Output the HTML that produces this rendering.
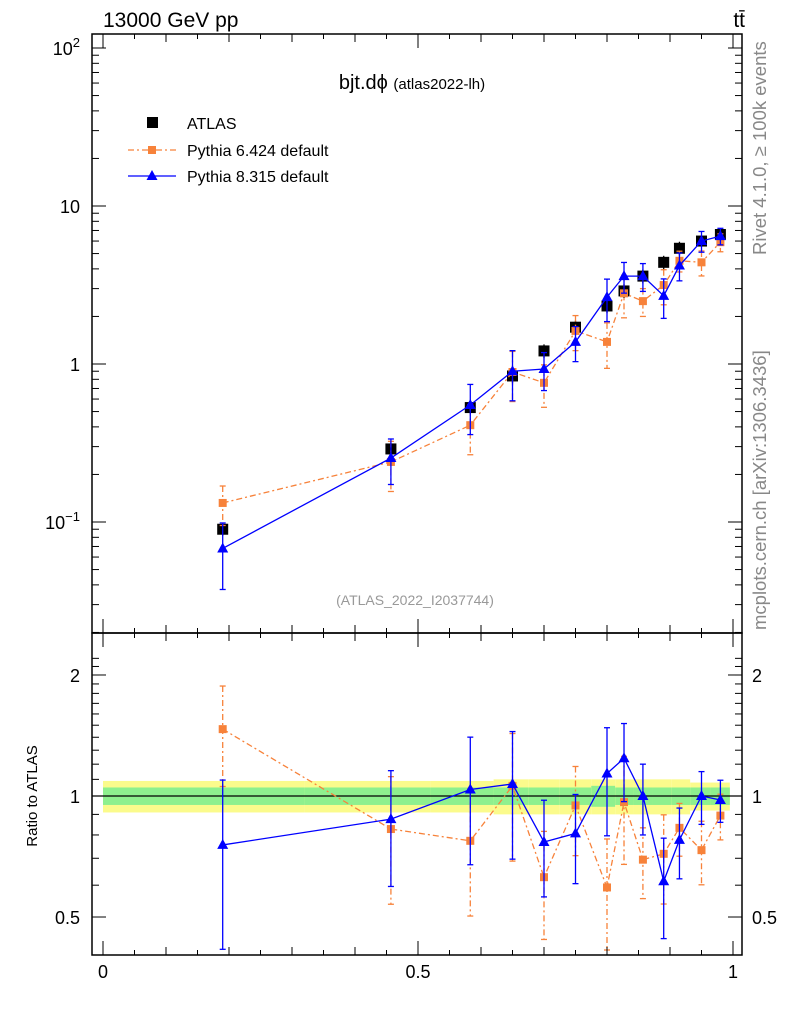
<!DOCTYPE html>
<html><head><meta charset="utf-8"><style>
body{margin:0;background:#fff;}
svg text{font-family:"Liberation Sans",sans-serif;}
</style></head><body>
<svg id="c" width="786" height="1024" xmlns="http://www.w3.org/2000/svg">
<rect width="786" height="1024" fill="#fff"/>
<g id="bands"></g>
<g id="marks"></g>
<g id="axes"></g>
<text x="103" y="27" font-size="21">13000 GeV pp</text>
<text x="745" y="27" font-size="21" text-anchor="end">tt̄</text>
<text x="412" y="89" font-size="20" text-anchor="middle">bjt.dϕ <tspan font-size="15">(atlas2022-lh)</tspan></text>
<text x="415" y="605" font-size="14" fill="#999" text-anchor="middle">(ATLAS_2022_I2037744)</text>
<text transform="translate(766,255) rotate(-90)" font-size="18.5" fill="#888">Rivet 4.1.0, ≥ 100k events</text>
<text transform="translate(766,630) rotate(-90)" font-size="18.5" fill="#888">mcplots.cern.ch [arXiv:1306.3436]</text>
<text transform="translate(37,796) rotate(-90)" font-size="15" text-anchor="middle">Ratio to ATLAS</text>
<g>
<rect x="147" y="117" width="11" height="11" fill="#000"/>
<text x="187" y="129" font-size="16">ATLAS</text>
<line x1="128" y1="150" x2="176" y2="150" stroke="#f7823a" stroke-width="1.3" stroke-dasharray="6,3,2,3"/>
<rect x="148" y="146" width="8" height="8" fill="#f7823a"/>
<text x="187" y="156" font-size="16">Pythia 6.424 default</text>
<line x1="128" y1="176" x2="176" y2="176" stroke="#0000ff" stroke-width="1.3"/>
<polygon points="152,170 146.5,180 157.5,180" fill="#0000ff"/>
<text x="187" y="182" font-size="16">Pythia 8.315 default</text>
</g>
</svg>
<script>
const xs=[0.19,0.457,0.583,0.65,0.7,0.75,0.8,0.827,0.857,0.89,0.915,0.95,0.98];
const atlas=[0.09,0.29,0.53,0.84,1.21,1.71,2.33,2.9,3.6,4.4,5.4,6.0,6.6];
const atlasStat=[0.05,0.05,0.05,0.05,0.05,0.05,0.06,0.05,0.05,0.05,0.05,0.05,0.05];
const atlasTot=[0.09,0.09,0.09,0.1,0.1,0.1,0.1,0.1,0.1,0.1,0.1,0.08,0.08];
const p6=[0.132,0.24,0.41,0.89,0.76,1.62,1.38,2.8,2.5,3.16,4.5,4.4,5.9];
const p6err=[0.28,0.35,0.35,0.35,0.3,0.25,0.32,0.3,0.2,0.25,0.15,0.18,0.13];
const p8=[0.068,0.254,0.55,0.90,0.93,1.38,2.65,3.6,3.6,2.7,4.2,6.0,6.45];
const p8err=[0.45,0.32,0.35,0.35,0.27,0.25,0.3,0.22,0.2,0.28,0.2,0.15,0.12];
const binEdges=[0,0.32,0.52,0.62,0.675,0.725,0.775,0.813,0.842,0.873,0.902,0.932,0.965,0.995];

const NS="http://www.w3.org/2000/svg";
const X=v=>103+630*v;
const Y=v=>364-158*Math.log10(v);
const R=v=>796-402*Math.log10(v);
function el(t,a,p){const e=document.createElementNS(NS,t);for(const k in a)e.setAttribute(k,a[k]);document.getElementById(p).appendChild(e);return e;}

for(let i=0;i<xs.length;i++){
  const x0=X(binEdges[i]),x1=X(binEdges[i+1]);
  const b1=el('rect',{x:x0,y:R(1+atlasTot[i]),width:x1-x0,height:R(1-atlasTot[i])-R(1+atlasTot[i]),fill:'#fbfb8c'},'bands');
  
  
  const b2=el('rect',{x:x0,y:R(1+atlasStat[i]),width:x1-x0,height:R(1-atlasStat[i])-R(1+atlasStat[i]),fill:'#8ef08e'},'bands');
  
  
}
const ol=el('line',{x1:92,x2:742,y1:R(1),y2:R(1),stroke:'#000','stroke-width':1.2},'bands');



function series(vals,errs,color,dash,marker,name,yf,ref){
  let pts=[];
  for(let i=0;i<xs.length;i++){
    let v=ref?vals[i]/ref[i]:vals[i];
    pts.push(X(xs[i])+','+yf(v));
  }
  const pl=el('polyline',{points:pts.join(' '),fill:'none',stroke:color,'stroke-width':1.3,'stroke-dasharray':dash},'marks');
  
  
  for(let i=0;i<xs.length;i++){
    let v=ref?vals[i]/ref[i]:vals[i];
    const x=X(xs[i]);const y=yf(v);
    const hi=Math.max(yf(v*(1+errs[i])),yf===R?640:40),lo=Math.min(yf(v*(1-errs[i])),yf===R?950:630);
    const e=el('line',{x1:x,x2:x,y1:hi,y2:lo,stroke:color,'stroke-width':1.3,'stroke-dasharray':dash},'marks');
    
    
    el('line',{x1:x-3,x2:x+3,y1:hi,y2:hi,stroke:color,'stroke-width':1.3},'marks');
    el('line',{x1:x-3,x2:x+3,y1:lo,y2:lo,stroke:color,'stroke-width':1.3},'marks');
    let m;
    if(marker==='tri'){m=el('polygon',{points:`${x},${y-6} ${x-5.5},${y+4} ${x+5.5},${y+4}`,fill:color},'marks');}
    else {m=el('rect',{x:x-4,y:y-4,width:8,height:8,fill:color},'marks');}
    
    
  }
}
for(let i=0;i<xs.length;i++){
  const x=X(xs[i]),y=Y(atlas[i]);
  const e=el('line',{x1:x,x2:x,y1:Y(atlas[i]*(1+atlasTot[i])),y2:Y(atlas[i]*(1-atlasTot[i])),stroke:'#000','stroke-width':1.3},'marks');
  
  
  const m=el('rect',{x:x-5.5,y:y-5.5,width:11,height:11,fill:'#000'},'marks');
  
  
}
series(p6,p6err,'#f7823a','6,3,2,3','sq','p6-main',Y,null);
series(p8,p8err,'#0000ff','none','tri','p8-main',Y,null);
series(p6,p6err,'#f7823a','6,3,2,3','sq','p6-ratio',R,atlas);
series(p8,p8err,'#0000ff','none','tri','p8-ratio',R,atlas);

const f1=el('rect',{x:92,y:34,width:650,height:599,fill:'none',stroke:'#000','stroke-width':1.5},'axes');


const f2=el('rect',{x:92,y:633,width:650,height:322,fill:'none',stroke:'#000','stroke-width':1.5},'axes');


function tk(x1,y1,x2,y2){el('line',{x1,y1,x2,y2,stroke:'#000','stroke-width':1},'axes');}
for(let k=0;k<=20;k++){
  const v=k*0.05,x=X(v);
  const len=(k%10===0)?14:(k%2===0?8:5);
  for(const [top,bot] of [[34,633],[633,955]]){tk(x,top,x,top+len);tk(x,bot,x,bot-len);}
}
const xtl=['0','0.5','1'];
[0,0.5,1].forEach((v,i)=>{const t=el('text',{x:X(v),y:978,'font-size':18,'text-anchor':'middle'},'axes');t.textContent=xtl[i];

});
for(let d=-2;d<=2;d++){for(let m=1;m<10;m++){const v=m*Math.pow(10,d);const y=Y(v);if(y<34||y>633)continue;const len=m===1?14:7;tk(92,y,92+len,y);tk(742,y,742-len,y);}}
[[100,'10'],[10,'10'],[1,'1'],[0.1,'10']].forEach(([v,s],i)=>{
  const t=el('text',{x:80,y:Y(v)+7,'font-size':18,'text-anchor':'end'},'axes');
  
  
  if(i===0){t.innerHTML='10<tspan dy="-8" font-size="13">2</tspan>';}
  else if(i===3){t.innerHTML='10<tspan dy="-8" font-size="13">−1</tspan>';}
  else t.textContent=s;
});
for(const v of [0.4,0.5,0.6,0.7,0.8,0.9,1,2]){const y=R(v);if(y<633||y>955)continue;const len=(v===0.5||v===1||v===2)?14:7;tk(92,y,92+len,y);tk(742,y,742-len,y);}
for(let v=1.1;v<2.3;v+=0.1){const y=R(v);if(y<633)continue;tk(92,y,99,y);tk(742,y,735,y);}
[[2,'2'],[1,'1'],[0.5,'0.5']].forEach(([v,s])=>{
  for(const [x,a] of [[80,'end'],[752,'start']]){
    const t=el('text',{x,y:R(v)+7,'font-size':18,'text-anchor':a},'axes');t.textContent=s;
    
    
  }
});
</script>
</body></html>
